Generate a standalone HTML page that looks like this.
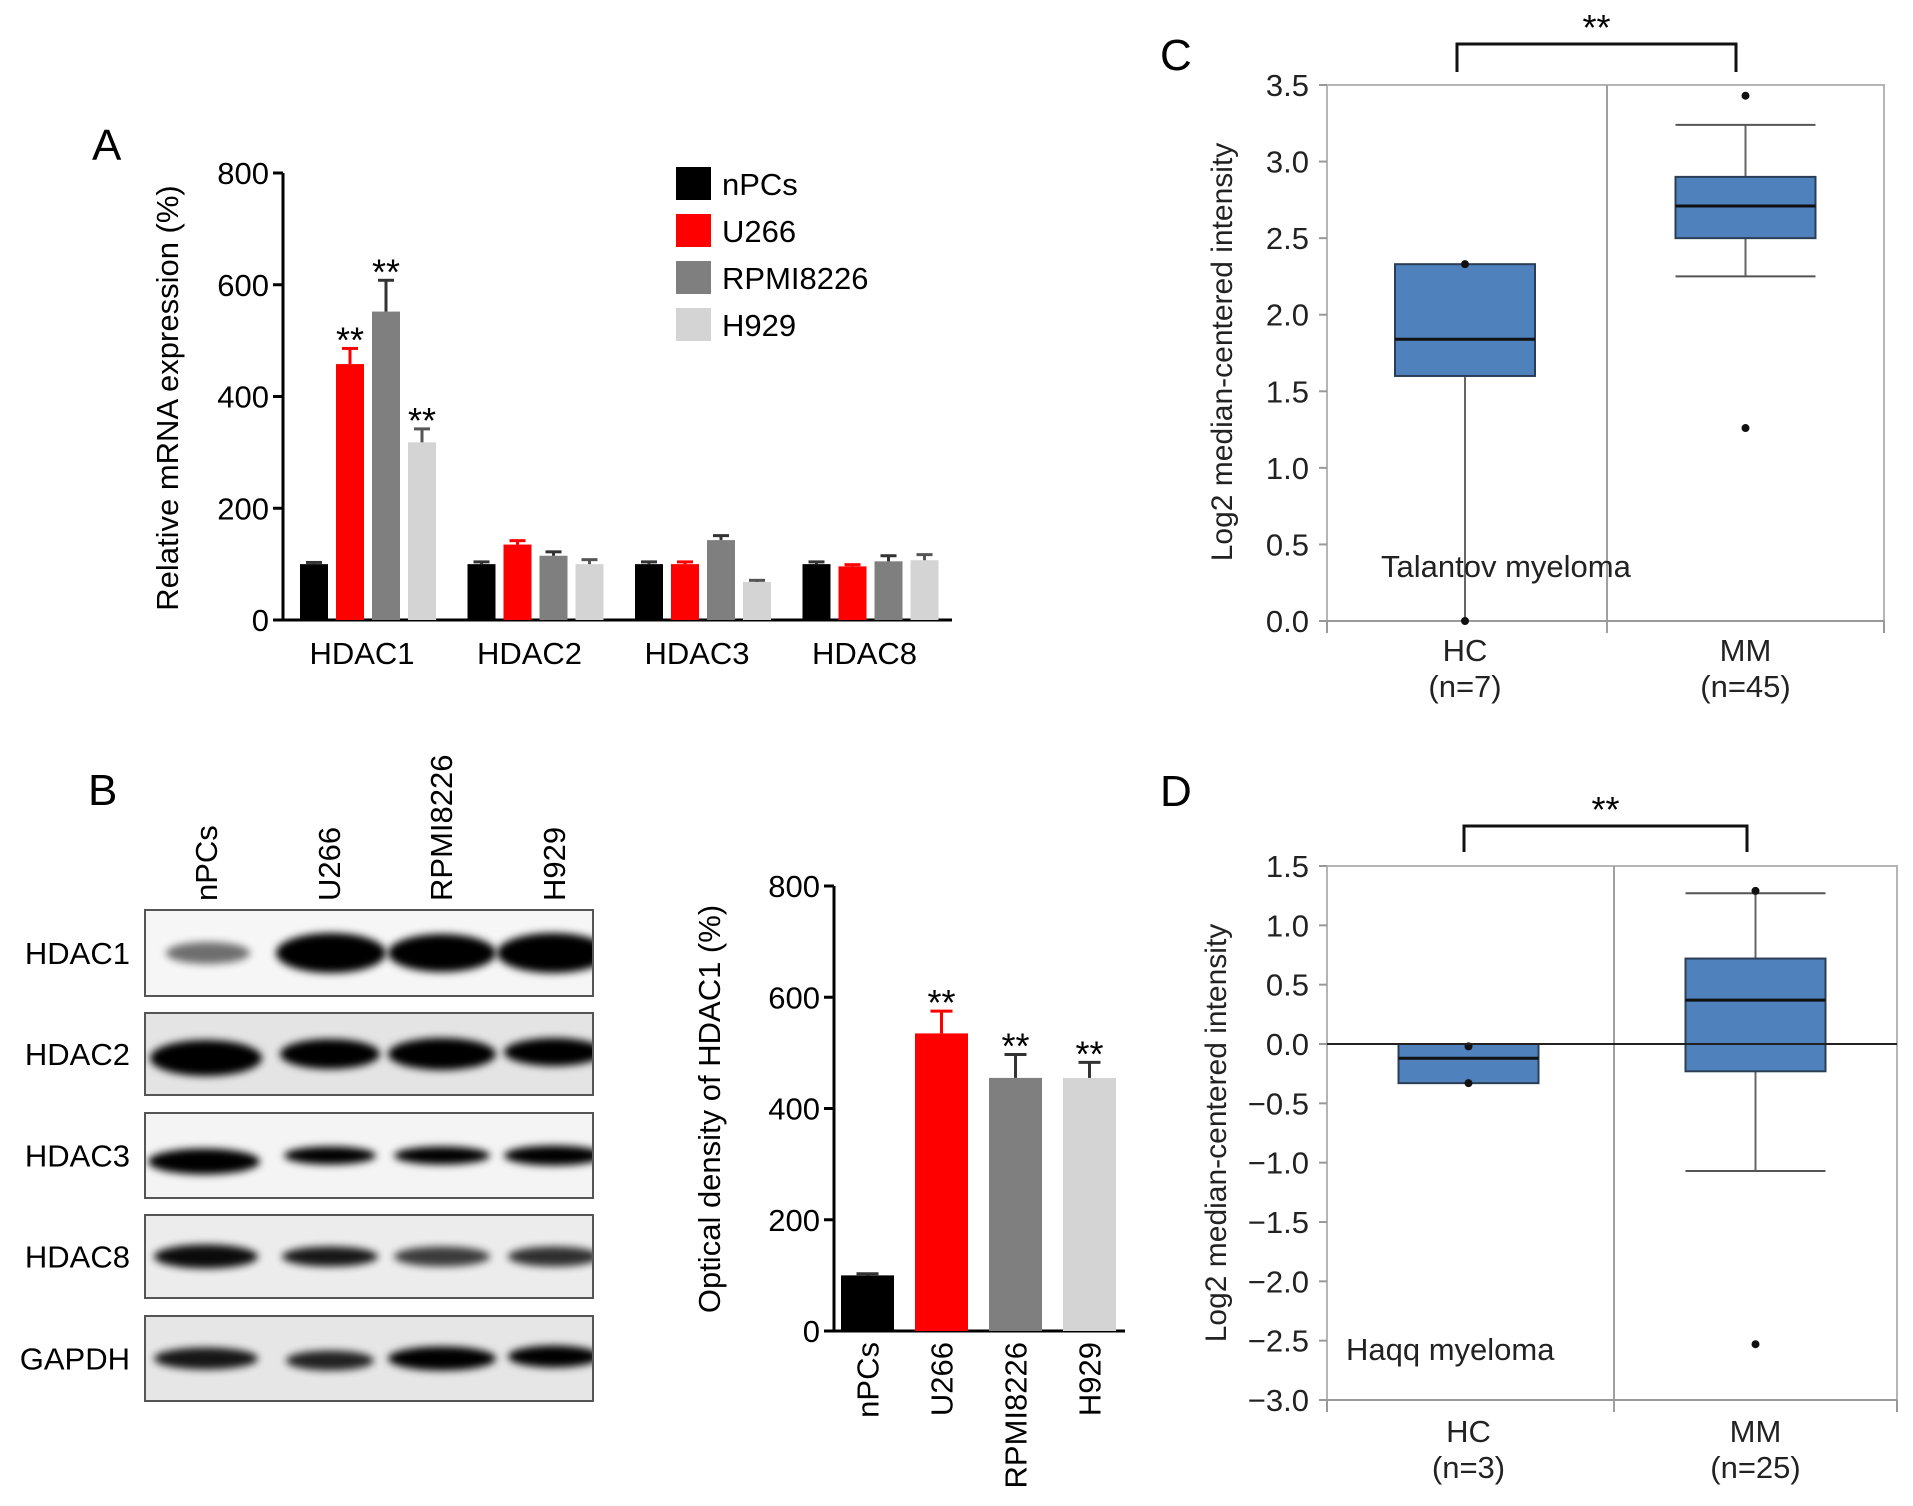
<!DOCTYPE html>
<html><head><meta charset="utf-8"><style>
html,body{margin:0;padding:0;background:#fff;}
svg{display:block;font-family:"Liberation Sans",Arial,sans-serif;}
</style></head><body>
<svg id="fig" width="1913" height="1506" viewBox="0 0 1913 1506">
<defs>
<filter id="blur" x="-30%" y="-80%" width="160%" height="260%"><feGaussianBlur stdDeviation="4"/></filter>
</defs>
<!-- panel letters -->
<text x="92" y="160" font-size="44">A</text>
<text x="88" y="805" font-size="44">B</text>
<text x="1160" y="70" font-size="44">C</text>
<text x="1160" y="806" font-size="44">D</text>
<g id="gA"></g>
<g id="gB"></g>
<g id="gB2"></g>
<g id="gC"></g>
<g id="gD"></g>
</svg>
<script>
// ---------- Panel A data ----------
const aGenes = ["HDAC1","HDAC2","HDAC3","HDAC8"];
const aSeries = ["nPCs","U266","RPMI8226","H929"];
const aNPCs = [100,100,100,100];
const aU266 = [458,135,100,96];
const aRPMI = [552,115,143,105];
const aH929 = [318,100,68,107];
const aErrNPCs = [3,4,4,4];
const aErrU266 = [28,7,4,3];
const aErrRPMI = [56,7,8,10];
const aErrH929 = [24,8,3,10];
const aStars = [["","**","**","**"],["","","",""],["","","",""],["","","",""]];
const aTicks = [0,200,400,600,800];
// ---------- Panel B bar data ----------
const bCats = ["nPCs","U266","RPMI8226","H929"];
const bVals = [100,535,455,455];
const bErr = [3,40,42,28];
const bStars = ["","**","**","**"];
const bTicks = [0,200,400,600,800];
// ---------- Panel C data ----------
const cGroups = ["HC","MM"];
const cN = ["(n=7)","(n=45)"];
const cQ1 = [1.60,2.50];
const cMed = [1.84,2.71];
const cQ3 = [2.33,2.90];
const cWLo = [0.0,2.25];
const cWHi = [2.33,3.24];
const cOut = [[2.33,0.0],[3.43,1.26]];
const cTicks = [0.0,0.5,1.0,1.5,2.0,2.5,3.0,3.5];
// ---------- Panel D data ----------
const dGroups = ["HC","MM"];
const dN = ["(n=3)","(n=25)"];
const dQ1 = [-0.33,-0.23];
const dMed = [-0.12,0.37];
const dQ3 = [0.0,0.72];
const dWLo = [-0.33,-1.07];
const dWHi = [0.0,1.27];
const dOut = [[-0.02,-0.33],[1.29,-2.53]];
const dTicks = [-3.0,-2.5,-2.0,-1.5,-1.0,-0.5,0.0,0.5,1.0,1.5];

const NS="http://www.w3.org/2000/svg";
function mk(parent,tag,attrs,txt){const e=document.createElementNS(NS,tag);for(const k in attrs)e.setAttribute(k,attrs[k]);if(txt!==undefined)e.textContent=txt;parent.appendChild(e);return e;}
const colors=["#000000","#ff0000","#7f7f7f","#d4d4d4"];

// ---------- Panel A ----------
(function(){
const g=document.getElementById('gA');
const y0=620,y1=173,x0=283,x1=952;
const ys=v=>y0-(v/800)*(y0-y1);
const gx=i=>300+i*167.5;
const bw=28,step=36;
let ax=mk(g,'line',{x1:x0,y1:y1,x2:x0,y2:y0,stroke:'#000','stroke-width':3});


let bx=mk(g,'line',{x1:x0-10,y1:y0,x2:x1,y2:y0,stroke:'#000','stroke-width':3});


aTicks.forEach(t=>{
 mk(g,'line',{x1:x0-10,y1:ys(t),x2:x0,y2:ys(t),stroke:'#000','stroke-width':3});
 let tl=mk(g,'text',{x:x0-14,y:ys(t)+11,'font-size':31,'text-anchor':'end'},t);
 
 
});
let yt=mk(g,'text',{x:0,y:0,'font-size':31,'text-anchor':'middle',transform:'translate(178,398) rotate(-90)'},'Relative mRNA expression (%)');


const vals=[aNPCs,aU266,aRPMI,aH929],errs=[aErrNPCs,aErrU266,aErrRPMI,aErrH929];
aGenes.forEach((gn,i)=>{
 vals.forEach((arr,s)=>{
  const x=gx(i)+s*step, v=arr[i], top=ys(v), et=ys(v+errs[s][i]);
  let r=mk(g,'rect',{x:x,y:top,width:bw,height:y0-top,fill:colors[s]});
  
  
  const ec=s==1?'#ff0000':(s==3?'#555':'#333');
  mk(g,'line',{x1:x+bw/2,y1:top,x2:x+bw/2,y2:et,stroke:ec,'stroke-width':3});
  mk(g,'line',{x1:x+bw/2-8,y1:et,x2:x+bw/2+8,y2:et,stroke:ec,'stroke-width':3});
  if(aStars[i][s]){let st=mk(g,'text',{x:x+bw/2,y:et+4,'font-size':36,'text-anchor':'middle'},aStars[i][s]);
   
   }
 });
 let cl=mk(g,'text',{x:gx(i)+62,y:664,'font-size':31,'text-anchor':'middle'},gn);
 
 
});
aSeries.forEach((s,k)=>{
 const y=167+k*47;
 let sq=mk(g,'rect',{x:676,y:y,width:35,height:33,fill:colors[k]});
 
 
 let lt=mk(g,'text',{x:722,y:y+28,'font-size':31},s);
 
 
});
})();

// ---------- Panel B western blot ----------
(function(){
const g=document.getElementById('gB');
const defs=document.querySelector('defs');
const lanes=["nPCs","U266","RPMI8226","H929"], laneX=[206,329,441,554];
lanes.forEach((l,i)=>{
 let t=mk(g,'text',{x:0,y:0,'font-size':31,transform:'translate('+(laneX[i]+11)+',901) rotate(-90)'},l);
 
 
});
const rows=["HDAC1","HDAC2","HDAC3","HDAC8","GAPDH"];
const rowY=[[910,996],[1013,1095],[1113,1198],[1215,1298],[1316,1401]];
const bgs=["#f6f6f6","#e4e4e4","#f4f4f4","#ececec","#e6e6e6"];
// band [cx, halfwidth, halfheight, opacity, dy]
const bands=[
 [[208,42,11,0.55,0],[331,55,20,1,0],[442,54,19,1,0],[553,56,20,1,0]],
 [[206,56,18,1,4],[330,50,15,1,0],[442,54,16,1,0],[554,50,14,1,-2]],
 [[204,56,13,1,6],[330,46,9,1,0],[442,48,9,1,0],[554,50,10,1,0]],
 [[206,52,12,0.95,0],[330,48,10,0.9,0],[442,48,10,0.75,0],[554,46,10,0.8,0]],
 [[206,52,11,0.9,0],[330,44,10,0.85,2],[442,54,12,1,0],[554,46,11,1,-2]]
];
rows.forEach((r,i)=>{
 const [t,b]=rowY[i];
 const cp=mk(defs,'clipPath',{id:'clip'+i});
 mk(cp,'rect',{x:145,y:t,width:448,height:b-t});
 let bx=mk(g,'rect',{x:145,y:t,width:448,height:b-t,fill:bgs[i]});
 
 
 const cy=(t+b)/2;
 const bg=mk(g,'g',{'clip-path':'url(#clip'+i+')'});
 bands[i].forEach(bd=>{
  mk(bg,'ellipse',{cx:bd[0],cy:cy+bd[4],rx:bd[1],ry:bd[2],fill:'#000',opacity:bd[3],filter:'url(#blur)'});
 });
 mk(g,'rect',{x:145,y:t,width:448,height:b-t,fill:'none',stroke:'#555','stroke-width':2});
 let lt=mk(g,'text',{x:130,y:cy+11,'font-size':31,'text-anchor':'end'},r);
 
 
});
})();

// ---------- Panel B bar chart ----------
(function(){
const g=document.getElementById('gB2');
const y0=1331,y1=886,x0=834,x1=1125;
const ys=v=>y0-(v/800)*(y0-y1);
mk(g,'line',{x1:x0,y1:y1,x2:x0,y2:y0,stroke:'#000','stroke-width':3});
mk(g,'line',{x1:x0-8,y1:y0,x2:x1,y2:y0,stroke:'#000','stroke-width':3});
bTicks.forEach(t=>{
 mk(g,'line',{x1:x0-10,y1:ys(t),x2:x0,y2:ys(t),stroke:'#000','stroke-width':3});
 let tl=mk(g,'text',{x:x0-14,y:ys(t)+11,'font-size':31,'text-anchor':'end'},t);
 
 
});
let yt=mk(g,'text',{x:0,y:0,'font-size':31,'text-anchor':'middle',transform:'translate(720,1109) rotate(-90)'},'Optical density of HDAC1 (%)');


bCats.forEach((c,i)=>{
 const x=841+i*74, w=53, top=ys(bVals[i]), et=ys(bVals[i]+bErr[i]);
 let r=mk(g,'rect',{x:x,y:top,width:w,height:y0-top,fill:colors[i]});
 
 
 const ec=i==1?'#ff0000':'#333';
 mk(g,'line',{x1:x+w/2,y1:top,x2:x+w/2,y2:et,stroke:ec,'stroke-width':3});
 mk(g,'line',{x1:x+w/2-11,y1:et,x2:x+w/2+11,y2:et,stroke:ec,'stroke-width':3});
 if(bStars[i]){let st=mk(g,'text',{x:x+w/2,y:et+4,'font-size':36,'text-anchor':'middle'},bStars[i]);
  
  }
 let cl=mk(g,'text',{x:0,y:0,'font-size':31,'text-anchor':'end',transform:'translate('+(x+w/2+11)+',1342) rotate(-90)'},c);
 
 
});
})();

// ---------- Box plot helper ----------
function boxPlot(gid,cfg){
const g=document.getElementById(gid);
const {L,R,T,B,vmin,vmax,mid,ticks,groups,ns,q1,med,q3,wlo,whi,outs,title,label,labelY,zeroLine,bracket,tickFmt,titleX,titleY,catY,caps}=cfg;
const ys=v=>B-(v-vmin)/(vmax-vmin)*(B-T);
const cx=[(L+mid)/2-2,(mid+R)/2];
mk(g,'rect',{x:L,y:T,width:R-L,height:B-T,fill:'none',stroke:'#b5b5b5','stroke-width':2});
mk(g,'line',{x1:mid,y1:T,x2:mid,y2:B+12,stroke:'#a0a0a0','stroke-width':2});
mk(g,'line',{x1:L,y1:B,x2:R,y2:B,stroke:'#999','stroke-width':2});
[L,R].forEach(x=>mk(g,'line',{x1:x,y1:B,x2:x,y2:B+12,stroke:'#999','stroke-width':2}));
ticks.forEach(t=>{
 mk(g,'line',{x1:L-8,y1:ys(t),x2:L,y2:ys(t),stroke:'#999','stroke-width':2});
 let tl=mk(g,'text',{x:L-18,y:ys(t)+11,'font-size':31,'text-anchor':'end','fill':'#222'},tickFmt(t));
 
 
});
let yt=mk(g,'text',{x:0,y:0,'font-size':30,'text-anchor':'middle',transform:'translate('+titleX+','+titleY+') rotate(-90)','fill':'#222'},title);


groups.forEach((gr,i)=>{
 const hw=70,c=cx[i];
 mk(g,'line',{x1:c,y1:ys(whi[i]),x2:c,y2:ys(wlo[i]),stroke:'#666','stroke-width':2});
 if(caps[i]){
 mk(g,'line',{x1:c-hw,y1:ys(whi[i]),x2:c+hw,y2:ys(whi[i]),stroke:'#555','stroke-width':2});
 mk(g,'line',{x1:c-hw,y1:ys(wlo[i]),x2:c+hw,y2:ys(wlo[i]),stroke:'#555','stroke-width':2});
 }
 let bx=mk(g,'rect',{x:c-hw,y:ys(q3[i]),width:2*hw,height:ys(q1[i])-ys(q3[i]),fill:'#4f81bd',stroke:'#2b3e55','stroke-width':2});
 
 
 let md=mk(g,'line',{x1:c-hw,y1:ys(med[i]),x2:c+hw,y2:ys(med[i]),stroke:'#111','stroke-width':3});
 
 
 outs[i].forEach(o=>{
  let p=mk(g,'circle',{cx:c,cy:ys(o),r:4,fill:'#111'});
  
  
 });
 let cl=mk(g,'text',{x:c,y:catY,'font-size':31,'text-anchor':'middle','fill':'#222'},gr);
 
 
 let nl=mk(g,'text',{x:c,y:catY+36,'font-size':31,'text-anchor':'middle','fill':'#222'},ns[i]);
 
 
});
if(zeroLine) mk(g,'line',{x1:L,y1:ys(0),x2:R,y2:ys(0),stroke:'#222','stroke-width':2});
let dl=mk(g,'text',{x:label[0],y:labelY,'font-size':31,'fill':'#222'},label[1]);


const [bt,bb,bl,br]=bracket;
let br1=mk(g,'path',{d:'M'+bl+','+bb+' L'+bl+','+bt+' L'+br+','+bt+' L'+br+','+bb,fill:'none',stroke:'#111','stroke-width':3});


let st=mk(g,'text',{x:(bl+br)/2,y:bt-4,'font-size':36,'text-anchor':'middle'},'**');


}
const fmt=t=>(t<0?'\u2212':'')+Math.abs(t).toFixed(1);
boxPlot('gC',{L:1327,R:1884,T:85,B:621,vmin:0,vmax:3.5,mid:1607,ticks:cTicks,groups:cGroups,ns:cN,q1:cQ1,med:cMed,q3:cQ3,wlo:cWLo,whi:cWHi,outs:cOut,caps:[false,true],
 title:'Log2 median-centered intensity',titleX:1232,titleY:352,label:[1381,'Talantov myeloma'],labelY:577,zeroLine:false,bracket:[44,72,1457,1736],tickFmt:fmt,catY:661});
boxPlot('gD',{L:1327,R:1897,T:866,B:1400,vmin:-3,vmax:1.5,mid:1614,ticks:dTicks,groups:dGroups,ns:dN,q1:dQ1,med:dMed,q3:dQ3,wlo:dWLo,whi:dWHi,outs:dOut,caps:[false,true],
 title:'Log2 median-centered intensity',titleX:1226,titleY:1133,label:[1346,'Haqq myeloma'],labelY:1360,zeroLine:true,bracket:[826,852,1464,1747],tickFmt:fmt,catY:1442});
</script>
</body></html>
